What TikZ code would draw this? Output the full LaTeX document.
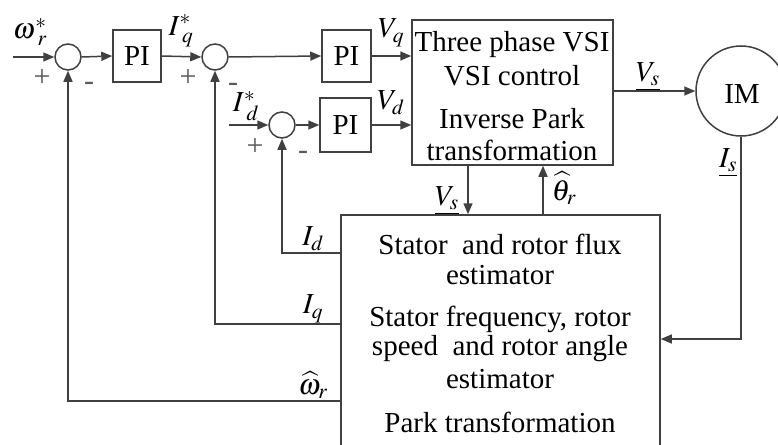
\documentclass[tikz,border=0pt]{standalone}
\usepackage{mathptmx}
\usepackage[no-math]{fontspec}
\setmainfont{Liberation Serif}
\usetikzlibrary{arrows.meta}
\begin{document}
\begin{tikzpicture}[x=1pt,y=-1pt,
  ln/.style={line width=1.5pt, draw=black!75},
  arr/.style={ln,-{Triangle[length=11pt,width=9pt]}},
  sumc/.style={circle, ln, minimum size=26pt, inner sep=0pt},
  blk/.style={rectangle, ln, inner sep=0pt},
  txt/.style={font=\fontsize{29}{31}\selectfont, inner sep=0pt},
  lbl/.style={font=\fontsize{29}{31}\selectfont, inner sep=0pt},
  sgn/.style={font=\fontsize{30}{32}\selectfont, inner sep=0pt, text=black!65}]
\useasboundingbox (0,0) rectangle (778,444);
\fill[white] (0,0) rectangle (778,444);

% summing junctions
\node[sumc] (s1) at (68,57) {};
\node[sumc] (s2) at (215,57) {};
\node[sumc] (s3) at (282,125) {};

% PI blocks
\node[blk, minimum width=48pt, minimum height=52pt, txt] (pi1) at (137,56) {PI};
\node[blk, minimum width=49pt, minimum height=52pt, txt] (pi2) at (346.5,56) {PI};
\node[blk, minimum width=51pt, minimum height=54pt, txt] (pi3) at (345.5,125) {PI};

% VSI block
\node[blk, minimum width=201pt, minimum height=145pt] (vsi) at (512.5,92.5) {};
\node[txt] (v1) at (512,45) {Three phase VSI};
\node[txt] (v2) at (512,76) {VSI control};
\node[txt] (v3) at (512,119) {Inverse Park};
\node[txt] (v4) at (512,150) {transformation};

% IM
\node[circle, ln, minimum size=90pt, inner sep=0pt] (im) at (741,91) {};
\node[txt] (imt) at (742,94) {IM};

% estimator block
\node[blk, minimum width=319pt, minimum height=250pt] (est) at (500.5,340) {};
\node[txt] (e1) at (500,244) {Stator\ \ and rotor flux};
\node[txt] (e2) at (500,275) {estimator};
\node[txt] (e3) at (500,319) {Stator frequency, rotor};
\node[txt] (e4) at (500,349) {speed\ \ and rotor angle};
\node[txt] (e5) at (500,379) {estimator};
\node[txt] (e6) at (500,422) {Park transformation};

% coordinates
\coordinate (win) at (13,57);
\coordinate (idin) at (229,125);
\coordinate (vsd) at (468,165);
\coordinate (thu) at (543,215);
\coordinate (isf) at (741,339);
\coordinate (fid) at (341,253);
\coordinate (fiq) at (341,324);
\coordinate (fw) at (341,401);

% forward path
\draw[arr] (win) -- (s1.west);
\draw[arr] (s1.east) -- (pi1.west);
\draw[arr] (pi1.east) -- (s2.west);
\draw[arr] (s2.east) -- (pi2.west);
\draw[arr] (pi2.east) -- (pi2.east -| vsi.west);
\draw[arr] (idin) -- (s3.west);
\draw[arr] (s3.east) -- (pi3.west);
\draw[arr] (pi3.east) -- (pi3.east -| vsi.west);
\draw[arr] (vsi.east |- im.west) -- (im.west);
\draw[arr] (vsd) -- (vsd |- est.north);
\draw[arr] (thu) -- (thu |- vsi.south);
\draw[arr] (im.south) -- (isf) -- (isf -| est.east);

% feedback
\draw[arr] (fid) -| (s3.south);
\draw[arr] (fiq) -| (s2.south);
\draw[arr] (fw) -| (s1.south);

% labels
\node[lbl] (lw) at (30,32) {$\omega^{*}_{\;r}$};
\node[lbl] (liq) at (181,31) {$I^{*}_{\;q}$};
\node[lbl] (lvq) at (391,33) {$V_q$};
\node[lbl] (lvd) at (391,103) {$V_d$};
\node[lbl] (lid) at (246,106) {$I^{*}_{\;d}$};
\node[lbl] (lvs1) at (648,77) {$\underline{V_s}$};
\node[lbl] (lvs2) at (447,201) {$\underline{V_s}$};
\node[lbl] (lth) at (564,188) {$\widehat{\theta}_r$};
\node[lbl] (lis) at (728,163) {$\underline{I_s}$};
\node[lbl] (lidf) at (313,239) {$I_d$};
\node[lbl] (liqf) at (313,309) {$I_q$};
\node[lbl] (lwf) at (313,385) {$\widehat{\omega}_r$};

% signs
\node[sgn] (p1) at (42,78) {+};
\node[sgn] (m1) at (89,86) {-};
\node[sgn] (p2) at (188,78) {+};
\node[sgn] (m2) at (233,87) {-};
\node[sgn] (p3) at (255,147) {+};
\node[sgn] (m3) at (303,155) {-};
\end{tikzpicture}
\end{document}
